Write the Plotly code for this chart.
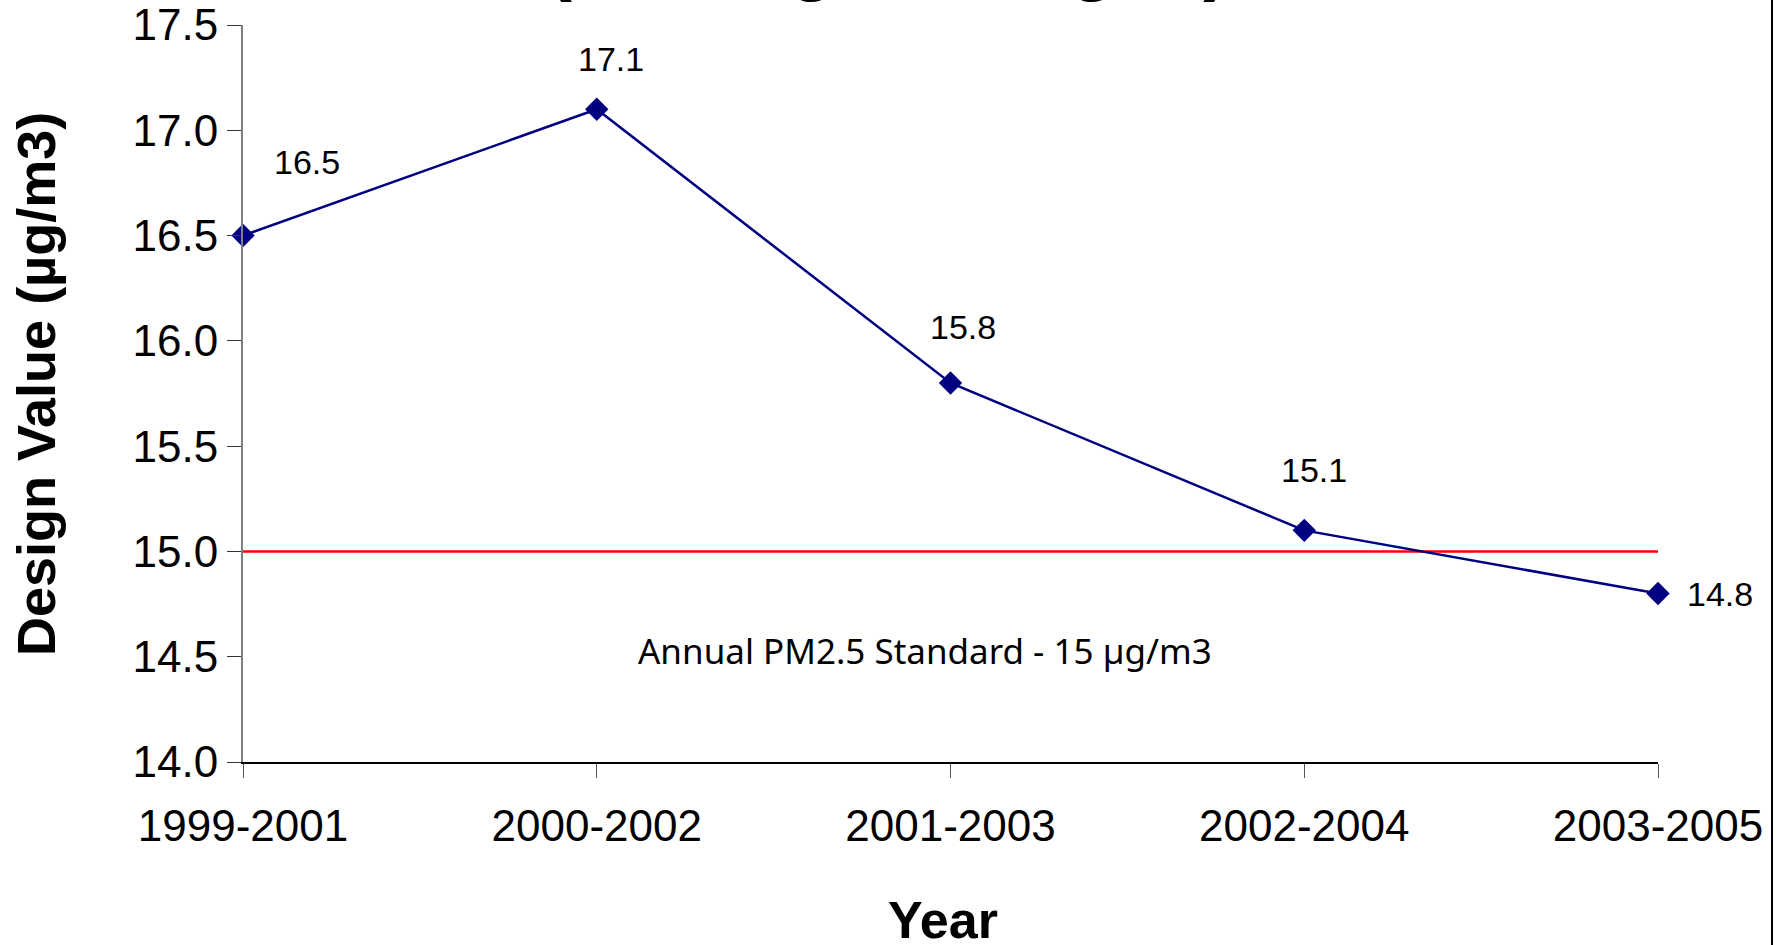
import plotly.graph_objects as go

# ---- data ----
periods = ["1999-2001", "2000-2002", "2001-2003", "2002-2004", "2003-2005"]
design_values = [16.5, 17.1, 15.8, 15.1, 14.8]
standard_value = 15.0
y_ticks = [14.0, 14.5, 15.0, 15.5, 16.0, 16.5, 17.0, 17.5]

title_text = "(Rolling Averages)"
standard_label = "Annual PM2.5 Standard - 15 µg/m3"
y_title = "Design Value (µg/m3)"
x_title = "Year"

# label offsets (style)
label_shifts = [(64, -74), (14, -50), (12, -56), (10, -60), (62, 0)]

W, H = 1786, 945
L, R, T, B = 243, 128, 25, 183
PW, PH = W - L - R, H - T - B

fig = go.Figure()

fig.add_trace(go.Scatter(
    x=[periods[0], periods[-1]], y=[standard_value, standard_value],
    mode="lines", line=dict(color="#ff0000", width=2.5),
    hoverinfo="skip", showlegend=False, cliponaxis=False,
))

fig.add_trace(go.Scatter(
    x=periods, y=design_values, mode="lines+markers",
    line=dict(color="#000080", width=2.5),
    marker=dict(symbol="diamond", size=18, color="#000080"),
    showlegend=False, cliponaxis=False,
))

annotations = []
for p, v, (dx, dy) in zip(periods, design_values, label_shifts):
    annotations.append(dict(
        x=p, y=v, xref="x", yref="y", text=f"{v:.1f}", showarrow=False,
        xanchor="center", yanchor="middle",
        xshift=dx, yshift=-dy, font=dict(family="Arial, Liberation Sans", size=34, color="black"),
    ))

annotations.append(dict(
    x=(925 - L) / PW, y=((H - B) - 650) / PH, xref="paper", yref="paper", text=standard_label,
    xanchor="center", yanchor="middle",
    showarrow=False, font=dict(family="Noto Sans", size=35, color="black"),
))
annotations.append(dict(
    x=(36 - L) / PW, y=((H - B) - 384) / PH, xref="paper", yref="paper", text=f"<b>{y_title}</b>",
    xanchor="center", yanchor="middle",
    textangle=-90, showarrow=False,
    font=dict(family="Arial, Liberation Sans", size=54, color="black"),
))
annotations.append(dict(
    x=(943 - L) / PW, y=-(920 - (H - B)) / PH, xref="paper", yref="paper", text=f"<b>{x_title}</b>",
    xanchor="center", yanchor="middle",
    showarrow=False, font=dict(family="Arial, Liberation Sans", size=52, color="black"),
))
annotations.append(dict(
    x=(887 - L) / PW, y=((H - B) - 5) / PH, xref="paper", yref="paper",
    xanchor="center", yanchor="bottom", text=f"<b>{title_text}</b>", showarrow=False,
    font=dict(family="Arial, Liberation Sans", size=78, color="black"),
))

fig.update_layout(
    width=W, height=H,
    margin=dict(l=L, r=R, t=T, b=B, autoexpand=False),
    paper_bgcolor="white", plot_bgcolor="white",
    annotations=annotations,
    shapes=[dict(type="line", xref="paper", yref="paper",
                 x0=(1772 - L) / PW, x1=(1772 - L) / PW,
                 y0=-0.3, y1=1.1, line=dict(color="black", width=2))],
)

fig.update_xaxes(
    type="category", categoryorder="array", categoryarray=periods,
    range=[0, len(periods) - 1],
    showgrid=False, zeroline=False,
    showline=True, linecolor="black", linewidth=2,
    ticks="outside", ticklen=14, tickwidth=1, tickcolor="#555555",
    tickfont=dict(family="Arial, Liberation Sans", size=44, color="black"),
    ticklabelstandoff=10,
)
fig.update_yaxes(
    range=[14.0, 17.5], tickvals=y_ticks, ticktext=[f"{t:.1f}" for t in y_ticks],
    showgrid=False, zeroline=False,
    showline=True, linecolor="#808080", linewidth=2,
    ticks="outside", ticklen=14, tickwidth=1, tickcolor="#333333",
    tickfont=dict(family="Arial, Liberation Sans", size=44, color="black"),
)

fig.write_html(
    "out.html",
    config={"displayModeBar": False},
    post_script="document.body.style.margin='0';document.body.style.overflow='hidden';",
)
